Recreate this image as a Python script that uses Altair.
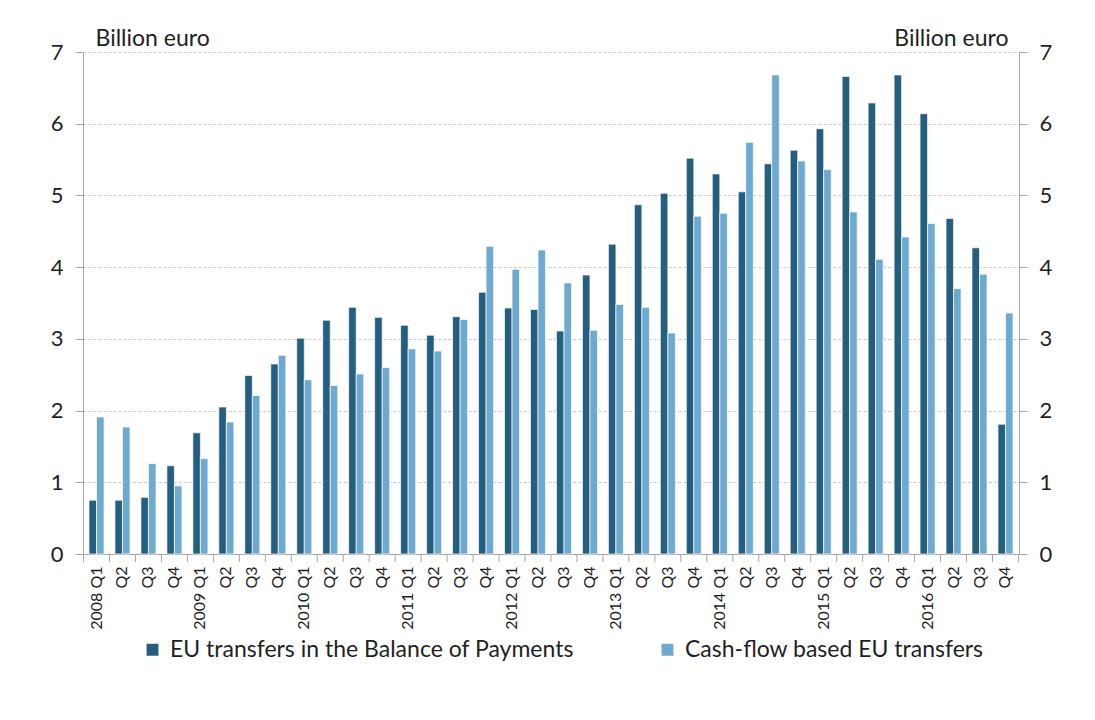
import altair as alt
import pandas as pd

years = [2008, 2009, 2010, 2011, 2012, 2013, 2014, 2015, 2016]
quarters = ["Q1", "Q2", "Q3", "Q4"]
periods = [f"{y} {q}" for y in years for q in quarters]

series_names = ["EU transfers in the Balance of Payments", "Cash-flow based EU transfers"]

bop = [0.75, 0.75, 0.79, 1.23,
       1.69, 2.05, 2.49, 2.65,
       3.01, 3.26, 3.44, 3.30,
       3.19, 3.05, 3.31, 3.65,
       3.43, 3.41, 3.11, 3.89,
       4.32, 4.87, 5.03, 5.52,
       5.30, 5.05, 5.44, 5.63,
       5.93, 6.66, 6.29, 6.68,
       6.14, 4.68, 4.27, 1.81]

cash = [1.91, 1.77, 1.26, 0.95,
        1.33, 1.84, 2.21, 2.77,
        2.43, 2.35, 2.51, 2.60,
        2.86, 2.83, 3.27, 4.29,
        3.97, 4.24, 3.78, 3.12,
        3.48, 3.44, 3.08, 4.71,
        4.75, 5.74, 6.68, 5.48,
        5.36, 4.77, 4.11, 4.42,
        4.61, 3.70, 3.90, 3.36]

y_ticks = [0, 1, 2, 3, 4, 5, 6, 7]
colors = ["#255E7E", "#6EA9CF"]

rows = []
for p, a, b in zip(periods, bop, cash):
    rows.append({"period": p, "series": series_names[0], "value": a})
    rows.append({"period": p, "series": series_names[1], "value": b})
df = pd.DataFrame(rows)
tick_df = pd.DataFrame({"period": periods})
last_df = pd.DataFrame({"period": periods[-1:]})

FONT = "Lato"
TXT = "#1f1f1f"
AX = "#A6A6A6"
PAD_INNER = 0.42

yscale = alt.Scale(domain=[0, 7], nice=False, zero=True)
xscale = alt.Scale(paddingInner=PAD_INNER, paddingOuter=0.23)

x_axis = alt.Axis(title=None, labelAngle=270,
                  labelExpr="indexof(datum.value, 'Q1') >= 0 ? datum.value : split(datum.value, ' ')[1]",
                  labelFont=FONT, labelFontSize=16, labelColor=TXT,
                  labelPadding=12, ticks=False,
                  domainColor=AX, grid=False)

xo_enc = alt.XOffset("series:N", sort=series_names)

bars = alt.Chart(df).mark_bar(stroke="white", strokeWidth=0.7).encode(
    x=alt.X("period:N", sort=periods, scale=xscale, axis=x_axis),
    xOffset=xo_enc,
    y=alt.Y("value:Q", scale=yscale,
            axis=alt.Axis(values=y_ticks, title="Billion euro", titleAngle=0,
                          titleAlign="left", titleBaseline="bottom",
                          titleX=12, titleY=-2, titleFont=FONT, titleFontSize=23,
                          titleFontWeight="normal", titleColor=TXT,
                          labelFont=FONT, labelFontSize=22, labelColor=TXT,
                          labelPadding=12, tickSize=8, tickColor=AX, domainColor=AX,
                          grid=True, gridColor="#C8C8C8", gridDash=[3, 2], gridWidth=1)),
    color=alt.Color("series:N", sort=series_names,
                    scale=alt.Scale(domain=series_names, range=colors),
                    legend=alt.Legend(title=None, orient="none", direction="horizontal",
                                      legendX=58, legendY=586,
                                      symbolType="square", symbolSize=180,
                                      labelFont=FONT,
                                      labelFontSize=23, labelColor=TXT,
                                      labelLimit=600, columnPadding=82,
                                      labelOffset=6))
)

right = alt.Chart(df).mark_bar(opacity=0).encode(
    x=alt.X("period:N", sort=periods, scale=xscale, axis=None),
    xOffset=xo_enc,
    y=alt.Y("value:Q", scale=yscale,
            axis=alt.Axis(orient="right", values=y_ticks, title="Billion euro",
                          titleAngle=0, titleAlign="right", titleBaseline="bottom",
                          titleX=-11, titleY=-2, titleFont=FONT, titleFontSize=23,
                          titleFontWeight="normal", titleColor=TXT,
                          labelFont=FONT, labelFontSize=22, labelColor=TXT,
                          labelPadding=12, tickSize=8, tickColor=AX, domainColor=AX,
                          grid=False))
)

# x-axis ticks between quarters (band boundaries)
half_gap = -0.5 * PAD_INNER * 936 / (36 - PAD_INNER + 0.46)
xticks = alt.Chart(tick_df).mark_rule(color=AX, strokeWidth=1, xOffset=half_gap).encode(
    x=alt.X("period:N", sort=periods, scale=xscale, bandPosition=0, axis=None),
    y=alt.value(502), y2=alt.value(510)
)
xtick_last = alt.Chart(last_df).mark_rule(color=AX, strokeWidth=1, xOffset=-half_gap).encode(
    x=alt.X("period:N", sort=periods, scale=xscale, bandPosition=1, axis=None),
    y=alt.value(502), y2=alt.value(510)
)

chart = alt.layer(bars, right, xticks, xtick_last).resolve_axis(
    y="independent", x="independent"
).properties(
    width=936, height=502,
    autosize=alt.AutoSizeParams(type="none"),
    padding={"left": 75, "top": 44, "right": 60, "bottom": 150},
    background="white"
).configure_view(strokeWidth=0)

chart.save("out.html", embed_options={"renderer": "svg", "actions": False})
